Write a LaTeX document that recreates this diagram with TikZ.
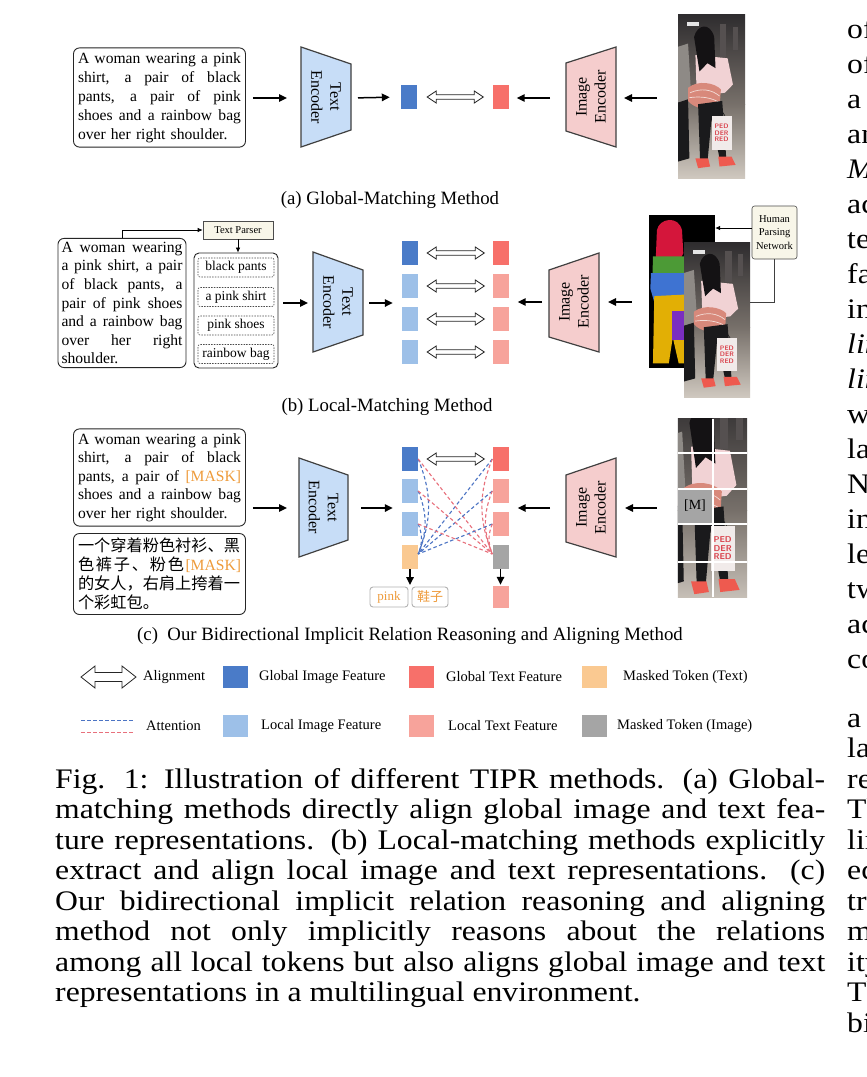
\documentclass[tikz,border=0pt]{standalone}
\usepackage{fontspec}
\setmainfont{Liberation Serif}
\newfontfamily\cjk{Noto Sans CJK SC}
\newfontfamily\capfont{Liberation Serif}[FakeStretch=1.12]
\usetikzlibrary{arrows.meta,calc}
\newcommand\fsz[2]{\fontsize{#1}{#2}\selectfont}
\newcommand\jl[2]{\makebox[#1][s]{\spaceskip=0pt\xspaceskip=0pt #2}}
\definecolor{gimg}{HTML}{4A7BC8}
\definecolor{limg}{HTML}{9DC0E8}
\definecolor{gtxt}{HTML}{F7706A}
\definecolor{ltxt}{HTML}{F7A39B}
\definecolor{mtxt}{HTML}{FAC991}
\definecolor{mimg}{HTML}{A5A5A5}
\definecolor{encb}{HTML}{C7DDF7}
\definecolor{encr}{HTML}{F5CDCD}
\definecolor{parser}{HTML}{F8F6E9}
\definecolor{maskc}{HTML}{EE9B3B}
\definecolor{attbc}{HTML}{4C74C4}
\definecolor{attrc}{HTML}{E8707C}
\definecolor{ph1}{HTML}{2E2C2E}
\definecolor{ph2}{HTML}{77706A}
\definecolor{ph3}{HTML}{CFC8BF}
\definecolor{ph4}{HTML}{555050}
\definecolor{leftp}{HTML}{8E8A86}
\definecolor{shirt}{HTML}{F1D2D4}
\definecolor{bagc}{HTML}{D8897B}
\definecolor{pants}{HTML}{1A1A1C}
\definecolor{sbag}{HTML}{F1EBEA}
\definecolor{shoe}{HTML}{EE5A4F}
\definecolor{hair}{HTML}{141214}
\definecolor{bagtxt}{HTML}{D9404A}
\definecolor{pred}{HTML}{D4163B}
\definecolor{pgreen}{HTML}{4C9A36}
\definecolor{pblue}{HTML}{3E73D2}
\definecolor{pyel}{HTML}{E2AF05}
\definecolor{ppur}{HTML}{7A2EC0}
% hollow double-headed arrow between two named coordinates
\newcommand\hollowarr[5]{\draw[hollow] (#1) -- ($(#1)+(#3,-#4)$) -- ($(#1)+(#3,-#5)$) -- ($(#2)+(-#3,-#5)$) -- ($(#2)+(-#3,-#4)$) -- (#2) -- ($(#2)+(-#3,#4)$) -- ($(#2)+(-#3,#5)$) -- ($(#1)+(#3,#5)$) -- ($(#1)+(#3,#4)$) -- cycle;}
% a stylised pedestrian photo in the unit square (y downward)
\newcommand\pedphoto[2]{%
  \shade[top color=ph1, bottom color=ph2] (0,0) rectangle (1,0.55);
  \shade[top color=ph2, bottom color=ph3] (0,0.55) rectangle (1,1);
  \fill[white!80!gray] (0.14,0.05) rectangle (0.32,0.075);
  \fill[ph4] (0.62,0.06) rectangle (0.72,0.26);
  \fill[ph4] (0.82,0.08) rectangle (0.9,0.22);
  \fill[leftp] (0,0.2) -- (0.15,0.18) -- (0.2,0.52) -- (0,0.54) -- cycle;
  \fill[pants] (0,0.54) -- (0.15,0.52) -- (0.17,0.88) -- (0,0.9) -- cycle;
  \fill[shirt] (0.26,0.25) -- (0.74,0.27) -- (0.82,0.43) -- (0.7,0.48) -- (0.28,0.5) -- cycle;
  \fill[hair] (0.24,0.14) .. controls (0.29,0.06) and (0.48,0.05) .. (0.54,0.14) -- (0.56,0.33) -- (0.44,0.3) -- (0.32,0.35) -- cycle;
  \fill[bagc] (0.15,0.45) .. controls (0.3,0.4) and (0.55,0.42) .. (0.64,0.46) -- (0.62,0.57) .. controls (0.45,0.59) and (0.25,0.58) .. (0.15,0.53) -- cycle;
  \draw[white!70!bagc, line width=0.7pt] (0.18,0.48) .. controls (0.35,0.45) and (0.5,0.46) .. (0.62,0.5);
  \draw[white!70!bagc, line width=0.7pt] (0.17,0.51) .. controls (0.35,0.5) and (0.5,0.51) .. (0.62,0.54);
  \fill[pants] (0.3,0.55) -- (0.66,0.53) -- (0.72,0.88) -- (0.62,0.88) -- (0.5,0.64) -- (0.44,0.9) -- (0.33,0.9) -- cycle;
  \draw[pants, line width=0.6pt] (0.55,0.62) -- (0.6,0.56) -- (0.7,0.62);
  \fill[sbag] (0.5,0.62) rectangle (0.8,0.83);
  \node[text=bagtxt, align=center, inner sep=0pt, font=\sffamily\bfseries\fsz{#2}{#2}] (bt#1) at (0.65,0.725) {PED\\DER\\RED};
  \fill[shoe] (0.26,0.88) -- (0.45,0.88) -- (0.48,0.93) -- (0.3,0.94) -- cycle;
  \fill[shoe] (0.6,0.87) -- (0.8,0.87) -- (0.86,0.92) -- (0.62,0.93) -- cycle;
}
\begin{document}
\begin{tikzpicture}[x=1pt,y=-1pt,
  tbox/.style={draw=black!85, line width=0.9pt, rounded corners=6pt, inner sep=4.5pt, font=\fsz{15.6}{19}, align=left},
  feat/.style={minimum width=16pt, minimum height=24pt, inner sep=0pt},
  arr/.style={-{Triangle[length=8pt,width=7.5pt]}, line width=1.5pt},
  arrs/.style={-{Latex[length=5pt,width=4.5pt]}, line width=0.7pt},
  hollow/.style={draw=black!85, line width=0.8pt, fill=white, line join=miter},
  enc/.style={draw=black!75, line width=1.2pt, line join=miter},
  enclab/.style={font=\fsz{16}{19}, align=center, inner sep=0pt},
  captxt/.style={font=\fsz{18.8}{22}, inner sep=0pt},
  leg/.style={font=\fsz{14.5}{17}, inner sep=0pt, anchor=west},
  legsq/.style={minimum width=25pt, minimum height=22pt, inner sep=0pt},
  attb/.style={draw=attbc, line width=1.1pt, dash pattern=on 3.5pt off 2.5pt},
  attr/.style={draw=attrc, line width=1.1pt, dash pattern=on 3.5pt off 2.5pt},
  phr/.style={draw=black!70, dash pattern=on 1.5pt off 1.2pt, line width=0.6pt, rounded corners=2pt, minimum width=76pt, minimum height=19pt, font=\fsz{13.5}{15}, inner sep=0pt},
  ans/.style={draw=black!30, line width=0.9pt, rounded corners=3pt, minimum height=20pt, inner sep=0pt, font=\fsz{13}{15}, text=maskc},
  capl/.style={font=\capfont\fsz{28.3}{31}, inner sep=0pt, anchor=base west},
  phframe/.style={inner sep=0pt}]
\useasboundingbox (0,0) rectangle (867,1077);
\fill[white] (0,0) rectangle (867,1077);

% ================= (a) =================
\node[tbox, text width=163pt] (ta) at (159.5,97.5) {\jl{163pt}{A woman wearing a pink}\\\jl{163pt}{shirt, a pair of black}\\\jl{163pt}{pants, a pair of pink}\\\jl{163pt}{shoes and a rainbow bag}\\over her right shoulder.};
\draw[enc, fill=encb] (301,47) -- (351,64) -- (351,130) -- (301,147) -- cycle;
\node[enclab, rotate=-90] (teA) at (326,97) {Text\\Encoder};
\coordinate (teAw) at (301,98); \coordinate (teAe) at (351,98);
\draw[arr, shorten <=7pt, shorten >=14pt] (ta.east |- teAw) -- (teAw);
\node[feat, fill=gimg] (fa1) at (409,97) {};
\node[feat, fill=gtxt] (fa2) at (500.5,97) {};
\draw[arr, shorten <=7pt, shorten >=11pt] (teAe) -- (fa1.west);
\coordinate (dA1) at ([xshift=10pt]fa1.east); \coordinate (dA2) at ([xshift=-9pt]fa2.west);
\hollowarr{dA1}{dA2}{9}{6}{2.3}
\draw[enc, fill=encr] (566,63) -- (616,47) -- (616,147) -- (566,131) -- cycle;
\node[enclab, rotate=90] (ieA) at (591,97) {Image\\Encoder};
\coordinate (ieAw) at (566,98); \coordinate (ieAe) at (616,98);
\draw[arr, shorten <=16pt, shorten >=8pt] (ieAw) -- (fa2.east |- ieAw);
\node[phframe, minimum width=67pt, minimum height=164pt] (phA) at (711.5,96) {};
\begin{scope}
  \clip (phA.north west) rectangle (phA.south east);
  \begin{scope}[shift={(678,14)}, xscale=67, yscale=164]
    \pedphoto{A}{6.5}
  \end{scope}
\end{scope}
\draw[arr, shorten <=21pt, shorten >=8pt] (phA.west |- ieAe) -- (ieAe);
\node[captxt] (capA) at (390,200) {(a) Global-Matching Method};

% ================= (b) =================
\node[tbox, text width=121pt, inner sep=3.5pt, font=\fsz{15.6}{18.6}] (tb) at (122,303) {\jl{121pt}{A woman wearing}\\\jl{121pt}{a pink shirt, a pair}\\\jl{121pt}{of black pants, a}\\\jl{121pt}{pair of pink shoes}\\\jl{121pt}{and a rainbow bag}\\\jl{121pt}{over her right}\\shoulder.};
\node[draw=black!70, fill=parser, font=\fsz{10.5}{12}, minimum width=70pt, minimum height=18pt, inner sep=0pt, line width=0.6pt] (tp) at (238,230) {Text Parser};
\draw[arrs] (tb.north) |- (tp.west);
\node[draw=black!85, line width=0.9pt, rounded corners=5pt, minimum width=84pt, minimum height=115pt, inner sep=0pt] (pc) at (236,310.5) {};
\draw[arrs] (tp.south) -- (tp.south |- pc.north);
\node[phr] (p1) at (236,267.5) {black pants};
\node[phr] (p2) at (236,297) {a pink shirt};
\node[phr] (p3) at (236,325.5) {pink shoes};
\node[phr] (p4) at (236,354) {rainbow bag};
\draw[enc, fill=encb] (313,252) -- (363,270) -- (363,335) -- (313,352) -- cycle;
\node[enclab, rotate=-90] (teB) at (338,302) {Text\\Encoder};
\coordinate (teBw) at (313,303); \coordinate (teBe) at (363,303);
\draw[arr, shorten <=5pt, shorten >=5pt] (pc.east |- teBw) -- (teBw);
\node[feat, fill=gimg] (fb1) at (410,253) {};
\node[feat, fill=limg] (fb2) at (410,286) {};
\node[feat, fill=limg] (fb3) at (410,319) {};
\node[feat, fill=limg] (fb4) at (410,352) {};
\node[feat, fill=gtxt] (rb1) at (500.5,253) {};
\node[feat, fill=ltxt] (rb2) at (500.5,286) {};
\node[feat, fill=ltxt] (rb3) at (500.5,319) {};
\node[feat, fill=ltxt] (rb4) at (500.5,352) {};
\draw[arr, shorten <=6pt, shorten >=9pt] (teBe) -- (fb1.west |- teBe);
\foreach \i in {1,2,3,4} {
  \coordinate (dBl\i) at ([xshift=9pt]fb\i.east); \coordinate (dBr\i) at ([xshift=-8pt]rb\i.west);
  \hollowarr{dBl\i}{dBr\i}{9}{6}{2.3}
}
\draw[enc, fill=encr] (549,270) -- (599,253) -- (599,352) -- (549,337) -- cycle;
\node[enclab, rotate=90] (ieB) at (574,302) {Image\\Encoder};
\coordinate (ieBw) at (549,302); \coordinate (ieBe) at (599,302);
\draw[arr, shorten <=7pt, shorten >=9pt] (ieBw) -- (rb1.east |- ieBw);
\node[phframe, fill=black, minimum width=66pt, minimum height=153pt] (pimg) at (682,291.5) {};
\begin{scope}[shift={(649,215)}, xscale=66, yscale=153]
  \fill[pred] (0.12,0.1) .. controls (0.15,0.02) and (0.45,0.0) .. (0.5,0.1) -- (0.52,0.25) -- (0.45,0.31) -- (0.1,0.31) -- cycle;
  \fill[pgreen] (0.06,0.27) -- (0.55,0.27) -- (0.55,0.42) -- (0.05,0.45) -- cycle;
  \fill[pblue] (0.03,0.38) -- (0.55,0.38) -- (0.55,0.55) -- (0.08,0.57) -- (0.02,0.48) -- cycle;
  \fill[pyel] (0.08,0.53) -- (0.55,0.52) -- (0.58,0.97) -- (0.45,0.97) -- (0.36,0.8) -- (0.3,0.97) -- (0.06,0.97) -- cycle;
  \fill[ppur] (0.35,0.63) rectangle (0.53,0.82);
\end{scope}
\node[phframe, minimum width=66pt, minimum height=155pt] (phB) at (717,319.5) {};
\begin{scope}
  \clip (phB.north west) rectangle (phB.south east);
  \begin{scope}[shift={(684,242)}, xscale=66, yscale=155]
    \pedphoto{B}{6.5}
  \end{scope}
\end{scope}
\draw[arr, shorten <=17pt, shorten >=9pt] (pimg.west |- ieBe) -- (ieBe);
\node[draw=black!70, fill=parser, rounded corners=2.5pt, font=\fsz{10.5}{13.5}, align=center, minimum width=45pt, minimum height=53pt, inner sep=0pt, line width=0.6pt] (hpn) at (774.5,232.5) {Human\\Parsing\\Network};
\draw[arrs] ([yshift=4.5pt]hpn.west) -- ([yshift=4.5pt]hpn.west -| pimg.east);
\draw[line width=0.7pt, black!75] (hpn.south) |- ([yshift=17.5pt]phB.east);
\node[captxt] (capB) at (387,407) {(b) Local-Matching Method};

% ================= (c) =================
\node[tbox, text width=163pt, font=\fsz{15.6}{18.5}] (tc) at (159.5,477.5) {\jl{163pt}{A woman wearing a pink}\\\jl{163pt}{shirt, a pair of black}\\\jl{163pt}{pants, a pair of \textcolor{maskc}{[MASK]}}\\\jl{163pt}{shoes and a rainbow bag}\\over her right shoulder.};
\node[tbox, text width=163pt, font=\cjk\fsz{16.2}{19}] (tz) at (159.5,574) {\jl{163pt}{一个穿着粉色衬衫、黑}\\\makebox[163pt][s]{色\hfill 裤\hfill 子\hfill 、\hfill 粉\hfill 色\hspace{1.5pt}{\rmfamily\fsz{15.6}{19}\color{maskc}[MASK]}}\\\jl{163pt}{的女人，右肩上挎着一}\\个彩虹包。};
\draw[enc, fill=encb] (299,458) -- (348,475) -- (348,540) -- (299,557) -- cycle;
\node[enclab, rotate=-90] (teC) at (323.5,507.5) {Text\\Encoder};
\coordinate (teCw) at (299,508); \coordinate (teCe) at (348,508);
\draw[arr, shorten <=7pt, shorten >=12pt] (tc.east |- teCw) -- (teCw);
\node[feat, fill=gimg] (fc1) at (410,459) {};
\node[feat, fill=limg] (fc2) at (410,491) {};
\node[feat, fill=limg] (fc3) at (410,524) {};
\node[feat, fill=mtxt] (fc4) at (410,557) {};
\node[feat, fill=gtxt] (rc1) at (500.5,459) {};
\node[feat, fill=ltxt] (rc2) at (500.5,491) {};
\node[feat, fill=ltxt] (rc3) at (500.5,524) {};
\node[feat, fill=mimg] (rc4) at (500.5,557) {};
\node[feat, fill=ltxt, minimum height=22pt] (rc5) at (500.5,597) {};
\draw[arr, shorten <=13pt, shorten >=9pt] (teCe) -- (fc1.west |- teCe);
% attention
\foreach \i in {1,2,3} {
  \draw[attb] (rc\i.west) -- ([yshift=3pt]fc4.east);
  \draw[attb] (fc\i.east) to[bend left=22] ([yshift=3pt]fc4.east);
  \draw[attr] (fc\i.east) -- ([yshift=3pt]rc4.west);
  \draw[attr] (rc\i.west) to[bend right=22] ([yshift=3pt]rc4.west);
}
\coordinate (dC1) at ([xshift=9pt]fc1.east); \coordinate (dC2) at ([xshift=-8pt]rc1.west);
\hollowarr{dC1}{dC2}{9}{6}{2.3}
\node[ans, minimum width=38pt] (ans1) at (389,597) {pink};
\node[ans, minimum width=36pt, font=\cjk\fsz{13}{15}] (ans2) at (430,597) {鞋子};
\draw[arr, shorten >=1.5pt] (fc4.south) -- (fc4.south |- ans1.north);
\draw[arr, shorten >=1pt] (rc4.south) -- (rc5.north);
\draw[enc, fill=encr] (566,475) -- (616,458) -- (616,557) -- (566,542) -- cycle;
\node[enclab, rotate=90] (ieC) at (591,507.5) {Image\\Encoder};
\coordinate (ieCw) at (566,508); \coordinate (ieCe) at (616,508);
\draw[arr, shorten <=16pt, shorten >=9pt] (ieCw) -- (rc1.east |- ieCw);
\node[phframe, minimum width=69pt, minimum height=178pt] (phC) at (712.5,508) {};
\begin{scope}
  \clip (phC.north west) rectangle (phC.south east);
  \begin{scope}[shift={(670,393)}, xscale=81, yscale=214]
    \pedphoto{C}{8.5}
  \end{scope}
\end{scope}
\node[phframe, fill=mimg, minimum width=34pt, minimum height=35pt, font=\fsz{14}{16}] (mpatch) at (695,506) {[M]};
\draw[white, line width=2pt] (phC.north) -- (phC.south);
\foreach \yy in {453,488.5,524,562} {\draw[white, line width=2pt] (phC.west |- 0,\yy) -- (phC.east |- 0,\yy);}
\draw[arr, shorten <=21pt, shorten >=9pt] (phC.west |- ieCe) -- (ieCe);
\node[captxt] (capC) at (410,636) {(c)\ \ Our Bidirectional Implicit Relation Reasoning and Aligning Method};

% ================= legend =================
\coordinate (lgA1) at (81,677); \coordinate (lgA2) at (136,677);
\hollowarr{lgA1}{lgA2}{14}{11}{4.5}
\node[leg] (lgt1) at (143,677) {Alignment};
\node[legsq, fill=gimg] (lgs1) at (235.5,677) {};
\node[leg] (lgt2) at (259,677) {Global Image Feature};
\node[legsq, fill=gtxt] (lgs2) at (421,677) {};
\node[leg] (lgt3) at (446,677) {Global Text Feature};
\node[legsq, fill=mtxt] (lgs3) at (594.5,677) {};
\node[leg] (lgt4) at (623,677) {Masked Token (Text)};
\coordinate (lgB1) at (81,720); \coordinate (lgB2) at (134,720);
\coordinate (lgC1) at (81,732); \coordinate (lgC2) at (134,732);
\draw[attb, line width=0.9pt] (lgB1) -- (lgB2);
\draw[attr, line width=0.9pt] (lgC1) -- (lgC2);
\node[leg] (lgt5) at (146,726) {Attention};
\node[legsq, fill=limg] (lgs4) at (235.5,726) {};
\node[leg] (lgt6) at (261,726) {Local Image Feature};
\node[legsq, fill=ltxt] (lgs5) at (421,726) {};
\node[leg] (lgt7) at (448,726) {Local Text Feature};
\node[legsq, fill=mimg] (lgs6) at (594.5,726) {};
\node[leg] (lgt8) at (617,726) {Masked Token (Image)};

% ================= caption =================
\node[capl] (cl1) at (55,788.4) {\jl{770pt}{Fig. 1: Illustration of different TIPR methods. (a) Global-}};
\node[capl] (cl2) at (55,818.9) {\jl{770pt}{matching methods directly align global image and text fea-}};
\node[capl] (cl3) at (55,849.4) {\jl{770pt}{ture representations. (b) Local-matching methods explicitly}};
\node[capl] (cl4) at (55,879.9) {\jl{770pt}{extract and align local image and text representations. (c)}};
\node[capl] (cl5) at (55,910.4) {\jl{770pt}{Our bidirectional implicit relation reasoning and aligning}};
\node[capl] (cl6) at (55,940.9) {\jl{770pt}{method not only implicitly reasons about the relations}};
\node[capl] (cl7) at (55,971.4) {\jl{770pt}{among all local tokens but also aligns global image and text}};
\node[capl] (cl8) at (55,1001.9) {representations in a multilingual environment.};

% ================= right column fragments =================
\foreach \w [count=\k from 0] in {of,of,a,an,{\itshape M},ac,te,fa,in,{\itshape lin},{\itshape lin},w,la,N,in,le,tw,ac,co} {
  \node[capl] (ra\k) at (847,38.4+35*\k) {\w};
}
\foreach \w [count=\k from 0] in {a,la,re,Th,lin,ec,tr,m,ity,Th,bi} {
  \node[capl] (rb\k) at (847,727.4+30.5*\k) {\w};
}
\end{tikzpicture}
\end{document}
